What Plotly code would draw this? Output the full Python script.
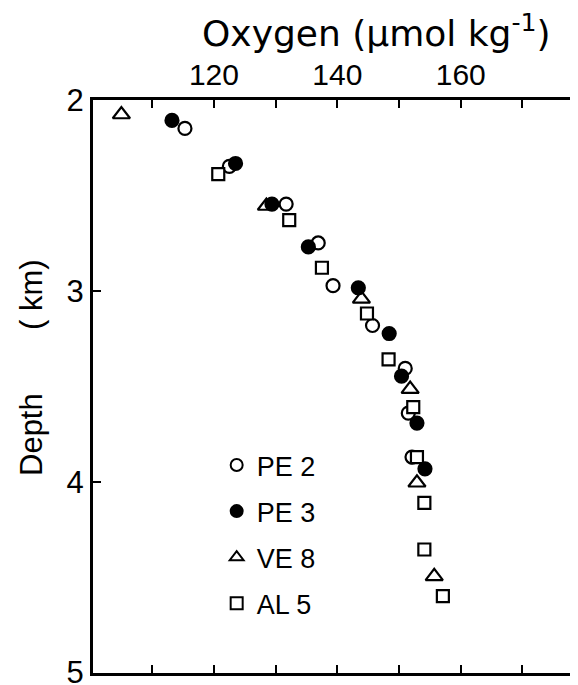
import plotly.graph_objects as go

# Data (oxygen in µmol/kg, depth in km)
pe2_oxy = [115.3, 122.5, 131.7, 136.9, 139.3, 145.7, 151.0, 151.5, 152.1]
pe2_depth = [2.146, 2.345, 2.543, 2.747, 2.971, 3.18, 3.405, 3.64, 3.87]

pe3_oxy = [113.2, 123.5, 129.4, 135.3, 143.4, 148.4, 150.4, 152.9, 154.2]
pe3_depth = [2.104, 2.33, 2.543, 2.768, 2.982, 3.222, 3.446, 3.692, 3.932]

ve8_oxy = [105.0, 128.5, 143.9, 151.8, 152.9, 155.7]
ve8_depth = [2.073, 2.553, 3.04, 3.514, 4.005, 4.496]

al5_oxy = [120.7, 132.2, 137.5, 144.8, 148.3, 152.3, 152.9, 154.1, 154.1, 157.1]
al5_depth = [2.386, 2.627, 2.877, 3.117, 3.358, 3.608, 3.87, 4.11, 4.355, 4.60]

x_tickvals = [110, 120, 130, 140, 150, 160, 170]
x_ticktext = ["", "120", "", "140", "", "160", ""]
y_tickvals = [2, 3, 4, 5]
y_ticktext = ["2", "3", "4", "5"]

FONT = "Liberation Sans, Arial, sans-serif"
TFONT = "DejaVu Sans, Liberation Sans, sans-serif"
XR = [100.4, 179.0]
YR = [5.003, 1.997]

fig = go.Figure()

fig.add_trace(go.Scatter(
    x=pe2_oxy, y=pe2_depth, mode="markers", name="PE 2", legendrank=1, legendgroup="a",
    marker=dict(symbol="circle", size=13, color="white", line=dict(color="black", width=2.2)),
))
fig.add_trace(go.Scatter(
    x=ve8_oxy, y=ve8_depth, mode="markers", name="VE 8", legendrank=3, legendgroup="c",
    marker=dict(symbol="triangle-up", size=15, color="white", line=dict(color="black", width=2.2)),
))
fig.add_trace(go.Scatter(
    x=al5_oxy, y=al5_depth, mode="markers", name="AL 5", legendrank=4, legendgroup="d",
    marker=dict(symbol="square", size=12, color="white", line=dict(color="black", width=2.2)),
))
fig.add_trace(go.Scatter(
    x=pe3_oxy, y=pe3_depth, mode="markers", name="PE 3", legendrank=2, legendgroup="b",
    marker=dict(symbol="circle", size=13, color="black", line=dict(color="black", width=2.2)),
))
# invisible trace so that the bottom / right tick axes are drawn
fig.add_trace(go.Scatter(x=[None], y=[None], xaxis="x2", yaxis="y2",
                         showlegend=False, hoverinfo="skip"))

fig.update_layout(
    width=578, height=685,
    margin=dict(l=85, r=8, t=92, b=20, autoexpand=False),
    paper_bgcolor="white", plot_bgcolor="white",
    font=dict(family=FONT, color="black"),
    xaxis=dict(
        side="top", range=XR,
        tickvals=x_tickvals, ticktext=x_ticktext,
        ticks="inside", ticklen=8, tickwidth=2, tickcolor="black",
        showline=True, linewidth=3, linecolor="black",
        showgrid=False, zeroline=False, automargin=False,
        tickfont=dict(size=30, family=FONT, color="black"),
    ),
    xaxis2=dict(
        overlaying="x", side="bottom", anchor="y", range=XR,
        tickvals=x_tickvals, showticklabels=False,
        ticks="inside", ticklen=8, tickwidth=2, tickcolor="black",
        showline=True, linewidth=3, linecolor="black",
        showgrid=False, zeroline=False, automargin=False,
    ),
    yaxis=dict(
        range=YR,
        tickvals=y_tickvals, ticktext=y_ticktext,
        ticks="inside", ticklen=8, tickwidth=2, tickcolor="black",
        showline=True, linewidth=3, linecolor="black",
        showgrid=False, zeroline=False, automargin=False,
        tickfont=dict(size=31, family=FONT, color="black"),
    ),
    yaxis2=dict(
        overlaying="y", side="right", anchor="x", range=YR,
        tickvals=[3, 4], ticks="inside", ticklen=7, tickwidth=3, tickcolor="black",
        showticklabels=False, showline=False, showgrid=False, zeroline=False,
        automargin=False,
    ),
    legend=dict(
        x=0.255, y=0.405, xanchor="left", yanchor="top",
        bgcolor="rgba(0,0,0,0)", borderwidth=0,
        font=dict(size=27, family=FONT, color="black"),
        itemsizing="constant", tracegroupgap=8,
        traceorder="grouped",
    ),
    showlegend=True,
)

fig.add_annotation(
    text="Oxygen (µmol kg<sup>-1</sup>)", xref="paper", yref="paper",
    x=0.585, y=1.0, yshift=69, xanchor="center", yanchor="middle",
    showarrow=False, font=dict(size=36, family=TFONT, color="black"),
)
fig.add_annotation(
    text="Depth", xref="paper", yref="paper",
    x=0.0, xshift=-62, y=(665 - 427) / 573, xanchor="center", yanchor="middle",
    textangle=-90, showarrow=False, font=dict(size=31, family=FONT, color="black"),
)
fig.add_annotation(
    text="(&nbsp;km)", xref="paper", yref="paper",
    x=0.0, xshift=-62, y=(665 - 287) / 573, xanchor="center", yanchor="middle",
    textangle=-90, showarrow=False, font=dict(size=31, family=FONT, color="black"),
)

fig.write_html("out.html")
